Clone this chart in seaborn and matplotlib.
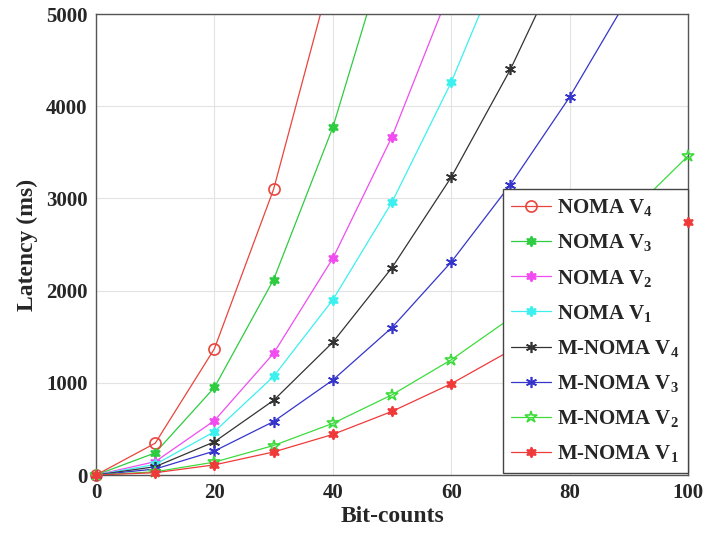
import numpy as np
import pandas as pd
import matplotlib
matplotlib.use("Agg")
import matplotlib.pyplot as plt
from matplotlib.lines import Line2D
import seaborn as sns

bits = [0, 10, 20, 30, 40, 50, 60, 70, 80, 90, 100]

noma_v4 = [0, 345, 1370, 3100, 5500]
noma_v3 = [0, 240, 950, 2120, 3770, 5900]
noma_v2 = [0, 145, 590, 1320, 2350, 3670, 5290]
noma_v1 = [0, 115, 470, 1070, 1900, 2960, 4260, 5800]
mnoma_v4 = [0, 90, 360, 810, 1440, 2250, 3230, 4400, 5760]
mnoma_v3 = [0, 65, 260, 580, 1030, 1600, 2310, 3150, 4100, 5190]
mnoma_v2 = [0, 35, 140, 320, 560, 870, 1250, 1700, 2230, 2830, 3460]
mnoma_v1 = [0, 25, 110, 250, 440, 690, 990, 1350, 1770, 2230, 2740]

labels = ["NOMA V$_4$", "NOMA V$_3$", "NOMA V$_2$", "NOMA V$_1$",
          "M-NOMA V$_4$", "M-NOMA V$_3$", "M-NOMA V$_2$", "M-NOMA V$_1$"]
series = [noma_v4, noma_v3, noma_v2, noma_v1, mnoma_v4, mnoma_v3, mnoma_v2, mnoma_v1]

colors = ["#E8453C", "#2ECC40", "#F04CF0", "#3CF0F0", "#333333", "#3535CC", "#3DDB3D", "#F03A3A"]
markers = ["o", (6, 1, 0), (6, 1, 0), (6, 1, 0), (6, 2, 0), (6, 2, 0), "*", (6, 1, 0)]
mfc = ["none", None, None, None, None, None, "none", None]
msizes = [8, 7.5, 7.5, 7.5, 8, 8, 9, 7.5]

sns.set_theme(style="whitegrid")
plt.rcParams["font.family"] = ["Liberation Serif", "DejaVu Serif"]
plt.rcParams["font.weight"] = "bold"
plt.rcParams["mathtext.fontset"] = "custom"
plt.rcParams["mathtext.rm"] = "Liberation Serif:bold"
plt.rcParams["mathtext.it"] = "Liberation Serif:bold"
plt.rcParams["mathtext.bf"] = "Liberation Serif:bold"

fig = plt.figure(figsize=(7.06, 5.42), dpi=100)
ax = fig.add_axes([0.136, 0.1236, 0.8385, 0.8504])

handles = []
for lab, ys, c, m, fc, ms in zip(labels, series, colors, markers, mfc, msizes):
    df = pd.DataFrame({"x": bits[:len(ys)], "y": ys})
    sns.lineplot(data=df, x="x", y="y", ax=ax, color=c, linewidth=0.9, legend=False)
    vis = df[df["y"] <= 5000]
    kw = dict(linestyle="none", marker=m, color=c, markersize=ms, markeredgewidth=1.2, clip_on=False)
    if fc is not None:
        kw["markerfacecolor"] = fc
    inner = vis[vis["x"] < 100]
    edge = vis[vis["x"] >= 100]
    ax.plot(inner["x"], inner["y"], zorder=5, **kw)
    if len(edge):
        ax.plot(edge["x"], edge["y"], zorder=12, **kw)
    handles.append(Line2D([0], [0], color=c, linewidth=0.9,
                          **{k: v for k, v in kw.items() if k not in ("linestyle", "clip_on", "color")}))

ax.set_xlim(0, 100)
ax.set_ylim(0, 5000)
ax.set_xticks([0, 20, 40, 60, 80, 100])
ax.set_yticks([0, 1000, 2000, 3000, 4000, 5000])
ax.tick_params(axis="both", labelsize=15, direction="in", length=4, color="#666666", pad=6)
for t in ax.get_xticklabels() + ax.get_yticklabels():
    t.set_fontweight("bold")
ax.set_xlabel("Bit-counts", fontsize=17, fontweight="bold", labelpad=2)
ax.set_ylabel("Latency (ms)", fontsize=17, fontweight="bold", labelpad=6)
ax.grid(True, color="#E3E3E3", linewidth=0.8)
ax.set_facecolor("white")
for s in ax.spines.values():
    s.set_color("#555555")
    s.set_linewidth(1.0)

leg = ax.legend(handles, labels, loc="lower right", bbox_to_anchor=(1.0, 0.005),
                borderaxespad=0.0, fontsize=15, frameon=True, fancybox=False,
                edgecolor="#444444", framealpha=1.0,
                handlelength=1.9, labelspacing=0.68, borderpad=0.4, handletextpad=0.3)
leg.get_frame().set_linewidth(1.0)
leg.set_zorder(10)
for t in leg.get_texts():
    t.set_fontweight("bold")

fig.savefig("out.png", dpi=100, facecolor="white")
